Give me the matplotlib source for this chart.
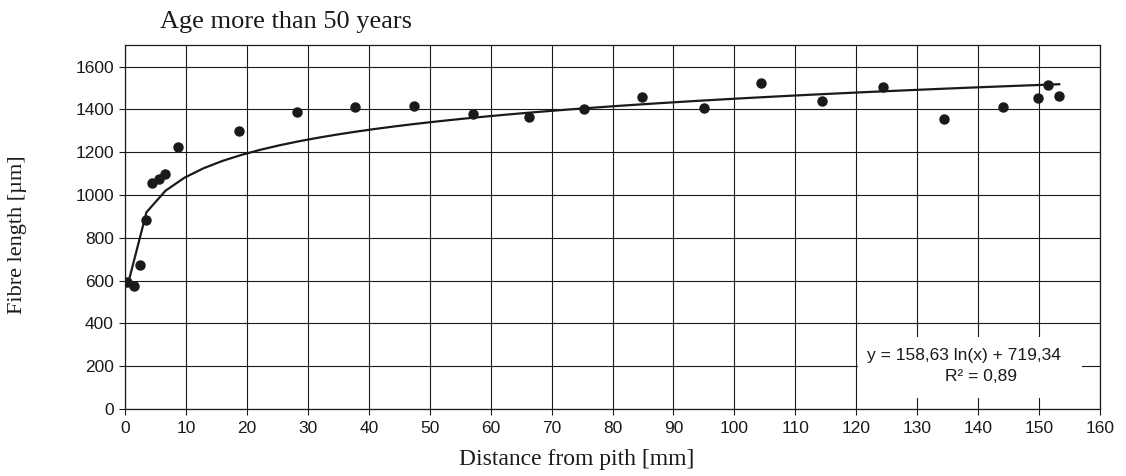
import numpy as np
import matplotlib.pyplot as plt
from matplotlib.patches import Rectangle

# measured points: distance from pith [mm], fibre length [um]
dist = [0.4, 1.4, 2.4, 3.5, 4.5, 5.5, 6.6, 8.7, 18.7, 28.3, 37.8, 47.4, 57.1,
        66.3, 75.3, 84.9, 95.0, 104.3, 114.4, 124.3, 134.4, 144.1, 149.8,
        151.5, 153.3]
fibre = [595, 575, 673, 884, 1055, 1075, 1099, 1222, 1300, 1387, 1409, 1418,
         1379, 1365, 1402, 1459, 1407, 1523, 1437, 1507, 1354, 1409, 1452,
         1512, 1463]

# log trendline printed on the chart
slope = 158.63
intercept = 719.34
r2_text = '0,89'

xticks = np.arange(0, 161, 10)
yticks = np.arange(0, 1601, 200)

ink = '#1a1a1a'
serif = ['Liberation Serif', 'DejaVu Serif']
sans = ['Liberation Sans', 'DejaVu Sans']

fig = plt.figure(figsize=(11.26, 4.76), dpi=100)
ax = fig.add_axes([0.111, 0.141, 0.866, 0.764])

# excel style trendline: equation sampled evenly over the data range
xt = np.linspace(min(dist), max(dist), 50)
ax.plot(xt, slope * np.log(xt) + intercept, '-', color=ink, lw=1.6, zorder=3)
ax.plot(dist, fibre, 'o', color=ink, ms=6.5, zorder=4)

ax.set_xlim(0, 160)
ax.set_ylim(0, 1700)
ax.set_xticks(xticks)
ax.set_yticks(yticks)
ax.grid(True, color=ink, lw=0.8)
for s in ax.spines.values():
    s.set_color(ink)
    s.set_linewidth(0.9)
ax.tick_params(direction='out', length=4, color=ink, labelsize=12.5, labelcolor=ink)
ax.tick_params(axis='x', pad=5)
ax.tick_params(axis='y', pad=4)
for lab in ax.get_xticklabels() + ax.get_yticklabels():
    lab.set_family(sans)

ax.set_xlabel('Distance from pith [mm]', family=serif, fontsize=17, color=ink)
ax.xaxis.set_label_coords(0.4636, -0.11)
ax.set_ylabel('Fibre length [\u00b5m]', family=serif, fontsize=16, color=ink)
ax.yaxis.set_label_coords(-0.1, 0.48)
fig.text(0.142, 1 - 28 / 476, 'Age more than 50 years', family=serif, fontsize=19,
         color=ink, va='baseline')

# white box behind the equation, covering the grid
ax.add_patch(Rectangle((120.2, 52), 36.8, 284, fc='white', ec='none', zorder=2.5))
ax.text(137.6, 250, 'y = %s ln(x) + %s' % (('%.2f' % slope).replace('.', ','),
                                           ('%.2f' % intercept).replace('.', ',')),
        family=sans, fontsize=12.5, color=ink, ha='center', va='center', zorder=5)
ax.text(140.5, 150, 'R\u00b2 = %s' % r2_text, family=sans, fontsize=12.5, color=ink,
        ha='center', va='center', zorder=5)

fig.savefig('out.png', dpi=100)
